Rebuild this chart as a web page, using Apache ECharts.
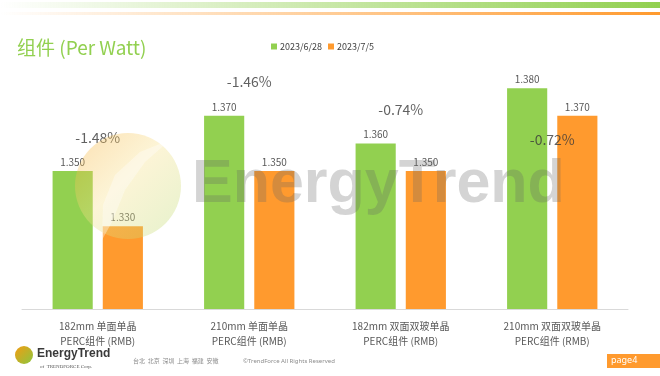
<!DOCTYPE html>
<html>
<head>
<meta charset="utf-8">
<script src="https://cdn.jsdelivr.net/npm/echarts@6/dist/echarts.min.js"></script>
<style>
  html, body { margin: 0; padding: 0; background: #fff; }
  #chart { width: 660px; height: 376px; }
</style>
</head>
<body>
<div id="chart"></div>
<script>
// 数据
const categories = [
  '182mm 单面单晶\nPERC组件 (RMB)',
  '210mm 单面单晶\nPERC组件 (RMB)',
  '182mm 双面双玻单晶\nPERC组件 (RMB)',
  '210mm 双面双玻单晶\nPERC组件 (RMB)',
]
const seriesNames = ['2023/6/28', '2023/7/5']
const pricesOld = [1.35, 1.37, 1.36, 1.38]
const pricesNew = [1.33, 1.35, 1.35, 1.37]

const green = '#92d050'
const orange = '#ff9a2e'
const font = '"Noto Sans CJK SC", "Noto Sans", sans-serif'

// 涨跌幅标签的偏移
const pctOffsets = [[0, -33], [0, -34], [0, -34], [0, 51]]

const pctData = pricesOld.map((v, i) => ({
  value: v,
  pct: ((pricesNew[i] / v - 1) * 100).toFixed(2) + '%',
  label: { offset: pctOffsets[i] },
}))

const chart = echarts.init(document.getElementById('chart'))

chart.setOption({
  animation: false,
  textStyle: { fontFamily: font },
  title: {
    text: '组件 (Per Watt)',
    left: 12,
    top: 33,
    textStyle: { color: green, fontSize: 19, fontWeight: 'normal', fontFamily: font },
  },
  legend: {
    data: seriesNames,
    left: 266,
    top: 37,
    icon: 'rect',
    itemWidth: 6,
    itemHeight: 6,
    itemGap: 6,
    textStyle: { fontSize: 9, color: '#404040', padding: [0, 0, 0, -2] },
  },
  grid: { left: 22, right: 32, top: 33, bottom: 67 },
  xAxis: {
    type: 'category',
    data: categories,
    axisLine: { lineStyle: { color: '#d9d9d9' } },
    axisTick: { lineStyle: { color: '#d9d9d9' }, length: 4 },
    axisLabel: { color: '#595959', fontSize: 10, lineHeight: 15, margin: 10 },
  },
  yAxis: {
    type: 'value',
    min: 1.3,
    max: 1.4,
    show: false,
    splitLine: { show: false },
  },
  series: [
    {
      name: seriesNames[0],
      type: 'bar',
      data: pricesOld,
      barWidth: '26.5%',
      barGap: '25%',
      itemStyle: { color: green },
      label: {
        show: true,
        position: 'top',
        distance: 4,
        color: '#595959',
        fontSize: 10,
        formatter: p => p.value.toFixed(3),
      },
    },
    {
      name: seriesNames[1],
      type: 'bar',
      data: pricesNew,
      barWidth: '26.5%',
      itemStyle: { color: orange },
      label: {
        show: true,
        position: 'top',
        distance: 4,
        color: '#595959',
        fontSize: 10,
        formatter: p => p.value.toFixed(3),
      },
    },
    // 涨跌幅
    {
      type: 'scatter',
      data: pctData,
      symbolSize: 0,
      silent: true,
      z: 5,
      label: {
        show: true,
        position: 'inside',
        color: '#3a3a3a',
        fontSize: 14,
        formatter: p => p.data.pct,
      },
    },
  ],
  graphic: [
    // 顶部装饰条
    {
      type: 'rect',
      shape: { x: 0, y: 2, width: 660, height: 6 },
      style: {
        fill: new echarts.graphic.LinearGradient(0, 0, 1, 0, [
          { offset: 0, color: 'rgba(146,208,80,0)' },
          { offset: 1, color: green },
        ]),
      },
      silent: true,
    },
    {
      type: 'rect',
      shape: { x: 0, y: 12, width: 660, height: 3 },
      style: {
        fill: new echarts.graphic.LinearGradient(0, 0, 1, 0, [
          { offset: 0, color: 'rgba(255,154,46,0)' },
          { offset: 1, color: orange },
        ]),
      },
      silent: true,
    },
    // 水印
    {
      type: 'circle',
      shape: { cx: 128, cy: 186, r: 53 },
      style: {
        fill: new echarts.graphic.LinearGradient(0, 0, 1, 1, [
          { offset: 0, color: '#f5a623' },
          { offset: 0.45, color: '#f7e08a' },
          { offset: 1, color: '#b5d96b' },
        ]),
        opacity: 0.35,
      },
      z: 100,
      silent: true,
    },
    {
      type: 'polygon',
      shape: { points: [[170, 140], [140, 152], [115, 175], [103, 205], [102, 240], [112, 222], [125, 190], [145, 162]] },
      style: { fill: '#ffffff', opacity: 0.35 },
      z: 101,
      silent: true,
    },
    {
      type: 'text',
      left: 192,
      top: 155,
      style: {
        text: 'EnergyTrend',
        font: 'bold 61px "Liberation Sans", Arial, sans-serif',
        fill: 'rgba(100,100,100,0.28)',
      },
      z: 100,
      silent: true,
    },
    // 页脚
    {
      type: 'circle',
      shape: { cx: 24, cy: 355, r: 9 },
      style: {
        fill: new echarts.graphic.LinearGradient(0, 0, 1, 1, [
          { offset: 0, color: '#f39c12' },
          { offset: 1, color: '#8cc63f' },
        ]),
      },
      silent: true,
    },
    {
      type: 'text',
      left: 37,
      top: 348,
      style: { text: 'EnergyTrend', font: 'bold 12px "Liberation Sans", Arial, sans-serif', fill: '#3a3a3a' },
      silent: true,
    },
    {
      type: 'text',
      left: 40,
      top: 364,
      style: { text: 'of  TRENDFORCE Corp.', font: '5px "Liberation Serif", serif', fill: '#555' },
      silent: true,
    },
    {
      type: 'text',
      left: 133,
      top: 358,
      style: { text: '台北  北京  深圳  上海  福建  安徽', font: '6px "Noto Sans CJK SC", sans-serif', fill: '#8c8c8c' },
      silent: true,
    },
    {
      type: 'text',
      left: 243,
      top: 358,
      style: { text: '©TrendForce All Rights Reserved', font: '6px "Noto Sans", sans-serif', fill: '#8c8c8c' },
      silent: true,
    },
    {
      type: 'rect',
      shape: { x: 607, y: 354, width: 53, height: 14 },
      style: { fill: orange },
      silent: true,
    },
    {
      type: 'text',
      left: 611,
      top: 356,
      style: { text: 'page4', font: '9px "Noto Sans", sans-serif', fill: '#fff' },
      silent: true,
    },
  ],
})
</script>
</body>
</html>
